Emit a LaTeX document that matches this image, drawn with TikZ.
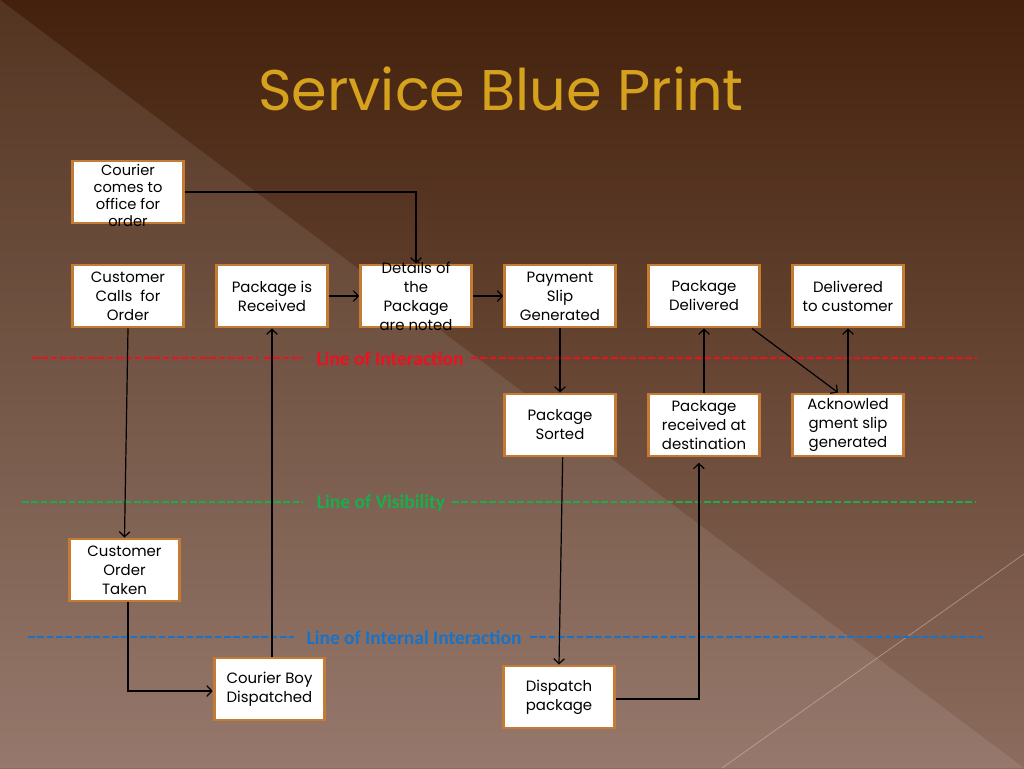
\documentclass[tikz,border=0pt]{standalone}
\usepackage{fontspec}
\setmainfont{Poppins}
\newfontfamily\labfont{Carlito}
\usetikzlibrary{arrows.meta}
\definecolor{bgtop}{HTML}{43210C}
\definecolor{bgbot}{HTML}{8C6C5E}
\definecolor{titlegold}{HTML}{D6A21E}
\definecolor{boxborder}{HTML}{C47C34}
\definecolor{loiRed}{HTML}{EE1020}
\definecolor{lovGreen}{HTML}{18AE4C}
\definecolor{liiBlue}{HTML}{1872C8}
\tikzset{
  box/.style={draw=boxborder, line width=2.2pt, fill=white, minimum width=83pt, minimum height=46.5pt, inner sep=0pt},
  boxtext/.style={align=center, inner sep=0pt, font=\fontsize{11.2}{14.25}\selectfont, text=black},
  conn/.style={-{Straight Barb[length=3.8pt,width=8pt]}, line width=0.9pt, black},
  sepline/.style={dash pattern=on 5pt off 2pt, line width=1.7pt},
  linelabel/.style={font=\labfont\fontsize{14.6}{16}\selectfont\bfseries, inner sep=0pt},
  title/.style={font=\fontsize{43}{48}\selectfont, text=titlegold}
}
\newcommand\bx[4]{\node[box] (#1) at (#2,#3) {};\node[boxtext] (#1-t) at (#1.center) {#4};}
\begin{document}
\begin{tikzpicture}[x=0.75pt,y=-0.75pt]
\useasboundingbox (0,0) rectangle (1024,768);
% background
\shade[top color=bgtop, bottom color=bgbot] (0,0) rectangle (1024,768);
\fill[white, opacity=0.09] (0,0) -- (1024,768) -- (0,768) -- cycle;
\draw[white!60!bgbot, opacity=0.5, line width=0.6pt] (722,768) -- (1024,554);
% title
\node[title] (title) at (501,89) {Service Blue Print};
% separator lines
\draw[sepline, loiRed] (32,358) -- (258,358);
\draw[sepline, loiRed] (264,358) -- (303,358);
\node[linelabel, text=loiRed] (loi) at (390,359) {Line of Interaction};
\draw[sepline, loiRed] (471,358) -- (977,358);
\draw[sepline, lovGreen] (22,502) -- (303,502);
\node[linelabel, text=lovGreen] (lov) at (381,503) {Line of Visibility};
\draw[sepline, lovGreen] (452,502) -- (975,502);
\draw[sepline, liiBlue] (28,637) -- (294,637);
\node[linelabel, text=liiBlue] (lii) at (414,638) {Line of Internal Interaction};
\draw[sepline, liiBlue] (530,637) -- (983,637);
% boxes
\node[box] (courier) at (128,192) {};
\node[boxtext, font=\fontsize{11}{12.75}\selectfont] (courier-t) at ([yshift=-2.6pt]courier.center) {Courier\\comes to\\office for\\order};
\bx{calls}{128}{296}{Customer\\Calls\ \ for\\Order}
\bx{received}{272}{296}{Package is\\Received}
\bx{details}{416}{296}{Details of\\the\\Package\\are noted}
\bx{payment}{560}{296}{Payment\\Slip\\Generated}
\bx{delivered}{704}{296}{Package\\Delivered}
\bx{tocust}{848}{296}{Delivered\\to customer}
\bx{sorted}{560}{425}{Package\\Sorted}
\bx{destination}{704}{425}{Package\\received at\\destination}
\bx{ack}{848}{425}{Acknowled\\gment slip\\generated}
\bx{ordertaken}{124.5}{570}{Customer\\Order\\Taken}
\bx{courierboy}{269.5}{689}{Courier Boy\\Dispatched}
\bx{dispatch}{559}{697}{Dispatch\\package}
% connectors
\draw[conn] (courier.east) -| (details.north);
\draw[conn] (received.east) -- (details.west);
\draw[conn] (details.east) -- (payment.west);
\draw[conn] (calls.south) -- (ordertaken.north);
\coordinate (otk) at ([xshift=2.6pt]ordertaken.south);
\draw[conn] (otk) |- ([yshift=-1.5pt]courierboy.west);
\draw[conn] (received.south |- courierboy.north) -- (received.south);
\draw[conn] (payment.south) -- (sorted.north);
\draw[conn] ([xshift=2pt]sorted.south) -- (dispatch.north);
\coordinate (dstin) at ([xshift=-3.8pt,yshift=-4pt]destination.south);
\draw[conn] ([yshift=-1.5pt]dispatch.east) -| (dstin);
\draw[conn] (destination.north) -- (delivered.south);
\draw[conn] ([xshift=36pt]delivered.south) -- ([xshift=-7.5pt]ack.north);
\draw[conn] (ack.north) -- (tocust.south);
\end{tikzpicture}
\end{document}
